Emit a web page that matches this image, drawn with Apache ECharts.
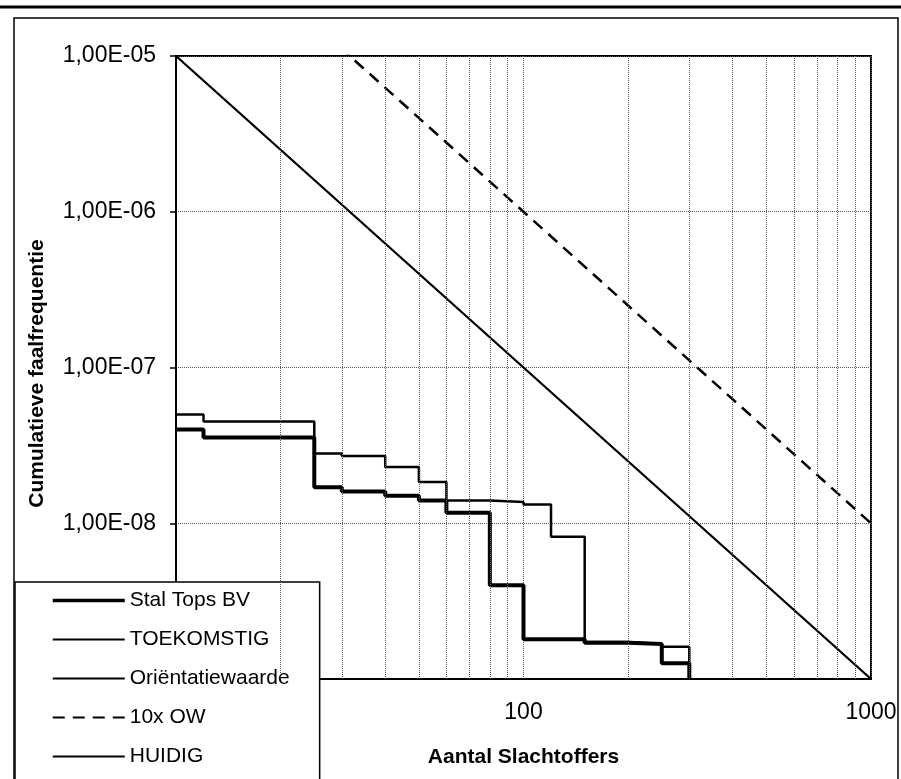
<!DOCTYPE html>
<html>
<head>
<meta charset="utf-8">
<title>Groepsrisico</title>
<script src="https://cdn.jsdelivr.net/npm/echarts@6/dist/echarts.min.js"></script>
<style>
  html, body { margin: 0; padding: 0; background: #fff; }
  #chart { width: 901px; height: 779px; }
</style>
</head>
<body>
<div id="chart"></div>
<script>
// legenda, in volgorde
const seriesNames = ['Stal Tops BV', 'TOEKOMSTIG', 'Oriëntatiewaarde', '10x OW', 'HUIDIG']

// aantal slachtoffers (x) en cumulatieve faalfrequentie (y)
const stalTopsX = [10, 12, 25, 30, 40, 50, 60, 80, 100, 150, 200, 250, 300]
const stalTopsY = [4.0e-8, 3.55e-8, 1.7e-8, 1.6e-8, 1.5e-8, 1.4e-8, 1.17e-8, 4.0e-9, 1.8e-9, 1.71e-9, 1.68e-9, 1.26e-9, 1e-9]
const toekomstigX = [10, 12, 25, 30, 40, 50, 60, 80, 100, 120, 150, 200, 250, 300]
const toekomstigY = [5.0e-8, 4.5e-8, 2.8e-8, 2.7e-8, 2.3e-8, 1.84e-8, 1.4e-8, 1.37e-8, 1.32e-8, 8.2e-9, 1.73e-9, 1.68e-9, 1.61e-9, 1e-9]
const owX = [10, 100, 1000]
const owY = [1e-5, 1e-7, 1e-9]
const ow10Y = [1e-4, 1e-6, 1e-8]

const font = '"Liberation Sans", Arial, sans-serif'
const pairs = (xs, ys) => xs.map((x, i) => [x, ys[i]])

// hulplijnen op 2..9 van elke decade
const minorMult = [2, 3, 4, 5, 6, 7, 8, 9]
const xMinor = []
const yMinor = []
;[10, 100].forEach(d => minorMult.forEach(m => xMinor.push(m * d)))
for (let e = -9; e < -5; e++) minorMult.forEach(m => yMinor.push(m * Math.pow(10, e)))

const gridStyle = { type: 'dotted', color: '#555', width: 1 }

let mycharts = echarts.init(document.getElementById('chart'))
var option = {
  animation: false,
  backgroundColor: '#fff',
  textStyle: { fontFamily: font },
  grid: {
    left: 176,
    top: 56,
    right: 30,
    bottom: 100,
    show: true,
    borderColor: '#000',
    borderWidth: 2,
  },
  legend: {
    data: seriesNames.map(n => (n === 'Stal Tops BV' ? { name: n, lineStyle: { width: 3.5 } } : { name: n })),
    orient: 'vertical',
    left: 15,
    top: 582,
    height: 260,
    itemWidth: 72,
    itemHeight: 14,
    itemGap: 18,
    padding: [8, 30, 40, 36],
    backgroundColor: '#fff',
    borderColor: '#000',
    borderWidth: 1.5,
    selectedMode: false,
    itemStyle: { opacity: 0 },
    lineStyle: { width: 2 },
    textStyle: { fontSize: 21, lineHeight: 21, color: '#000', fontFamily: font },
  },
  xAxis: {
    type: 'log',
    logBase: 10,
    min: 10,
    max: 1000,
    name: 'Aantal Slachtoffers',
    nameLocation: 'middle',
    nameGap: 68,
    nameTextStyle: { fontSize: 21, fontWeight: 'bold', color: '#000', fontFamily: font },
    axisLine: { lineStyle: { color: '#000', width: 2 } },
    axisTick: { show: false },
    axisLabel: { fontSize: 23, color: '#000', margin: 22, fontFamily: font, formatter: v => String(Math.round(v)) },
    splitLine: { show: true, lineStyle: gridStyle },
  },
  yAxis: {
    type: 'log',
    logBase: 10,
    min: 1e-9,
    max: 1e-5,
    name: 'Cumulatieve faalfrequentie',
    nameLocation: 'middle',
    nameGap: 128,
    nameTextStyle: { fontSize: 21, fontWeight: 'bold', color: '#000', fontFamily: font, padding: [0, 0, 0, -12] },
    axisLine: { show: true, lineStyle: { color: '#000', width: 2 } },
    axisTick: { show: true, length: 6, lineStyle: { color: '#000', width: 1.5 } },
    axisLabel: {
      fontSize: 23,
      color: '#000',
      margin: 20,
      fontFamily: font,
      formatter: v => {
        const e = Math.round(Math.log10(v))
        return '1,00E' + (e < 0 ? '-' : '+') + String(Math.abs(e)).padStart(2, '0')
      },
    },
    splitLine: { show: true, lineStyle: gridStyle },
  },
  graphic: [
    { type: 'line', silent: true, shape: { x1: 0, y1: 7, x2: 901, y2: 7 }, style: { stroke: '#000', lineWidth: 3 } },
    { type: 'rect', silent: true, shape: { x: 14, y: 18, width: 884, height: 800 }, style: { fill: 'none', stroke: '#000', lineWidth: 1.5 } },
  ],
  series: [
    {
      // alleen voor de hulplijnen
      name: 'raster',
      type: 'line',
      data: [[10, 1e-5]],
      showSymbol: false,
      lineStyle: { width: 0 },
      silent: true,
      markLine: {
        silent: true,
        symbol: ['none', 'none'],
        label: { show: false },
        lineStyle: gridStyle,
        data: xMinor.map(v => ({ xAxis: v })).concat(yMinor.map(v => ({ yAxis: v }))),
      },
    },
    {
      name: 'Stal Tops BV',
      type: 'line',
      step: 'end',
      symbol: 'none',
      lineStyle: { color: '#000', width: 4 },
      itemStyle: { color: '#000' },
      data: pairs(stalTopsX, stalTopsY),
    },
    {
      name: 'TOEKOMSTIG',
      type: 'line',
      step: 'end',
      symbol: 'none',
      lineStyle: { color: '#000', width: 2.5 },
      itemStyle: { color: '#000' },
      data: pairs(toekomstigX, toekomstigY),
    },
    {
      name: 'Oriëntatiewaarde',
      type: 'line',
      symbol: 'none',
      lineStyle: { color: '#000', width: 2.3 },
      itemStyle: { color: '#000' },
      data: pairs(owX, owY),
    },
    {
      name: '10x OW',
      type: 'line',
      symbol: 'none',
      lineStyle: { color: '#000', width: 2.5, type: [12, 8] },
      itemStyle: { color: '#000' },
      data: pairs(owX, ow10Y),
    },
    {
      name: 'HUIDIG',
      type: 'line',
      symbol: 'none',
      lineStyle: { color: '#000', width: 2 },
      itemStyle: { color: '#000' },
      data: [],
    },
  ],
}

mycharts.setOption(option)
</script>
</body>
</html>
